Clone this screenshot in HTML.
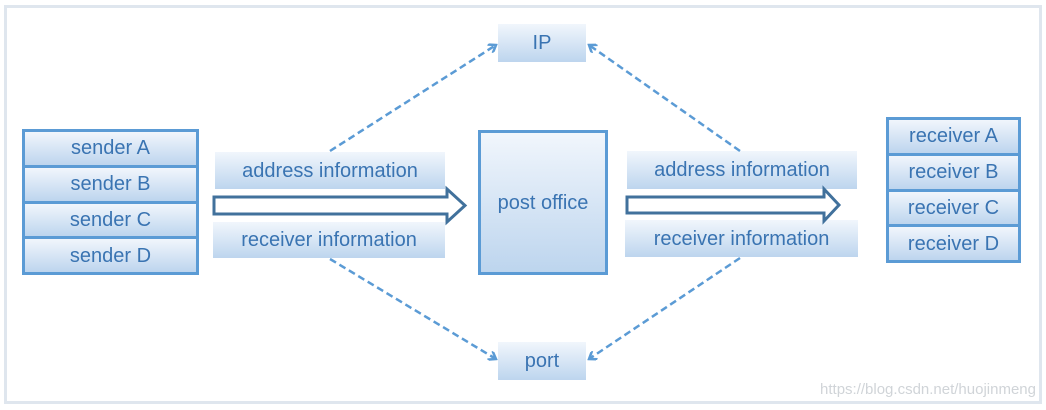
<!DOCTYPE html>
<html><head><style>
body{margin:0;width:1046px;height:410px;background:#fff;position:relative;overflow:hidden;font-family:"Liberation Sans",sans-serif;}
.frame{position:absolute;left:4px;top:5px;width:1032px;height:393px;border:3px solid #dfe6ee;}
.g{position:absolute;background:linear-gradient(#f1f6fc,#bdd5ee);color:#3a74b2;font-size:20px;display:flex;align-items:center;justify-content:center;box-sizing:border-box;padding-top:1px;}
.b{border:3px solid #5b9bd5;}
.stack{position:absolute;border:3px solid #5b9bd5;box-sizing:border-box;display:flex;flex-direction:column;}
.stack div{flex:1;background:linear-gradient(#f1f6fc,#bdd5ee);color:#3a74b2;font-size:20px;display:flex;align-items:center;justify-content:center;border-bottom:3px solid #5b9bd5;padding-top:1px;}
.stack div:last-child{border-bottom:none;}
svg{position:absolute;left:0;top:0;}
.wm{position:absolute;right:10px;top:381px;color:#d0d4d8;font-size:15px;}
</style></head><body>
<div class="frame"></div>
<div class="stack" style="left:22px;top:129px;width:177px;height:146px"><div>sender A</div><div>sender B</div><div>sender C</div><div>sender D</div></div>
<div class="stack" style="left:886px;top:117px;width:135px;height:146px"><div>receiver A</div><div>receiver B</div><div>receiver C</div><div>receiver D</div></div>
<div class="g" style="left:215px;top:152px;width:230px;height:37px">address information</div>
<div class="g" style="left:213px;top:222px;width:232px;height:36px">receiver information</div>
<div class="g" style="left:627px;top:151px;width:230px;height:38px">address information</div>
<div class="g" style="left:625px;top:220px;width:233px;height:37px">receiver information</div>
<div class="g b" style="left:478px;top:130px;width:130px;height:145px">post office</div>
<div class="g" style="left:498px;top:24px;width:88px;height:38px">IP</div>
<div class="g" style="left:498px;top:342px;width:88px;height:38px">port</div>
<svg width="1046" height="410">
<defs><marker id="m" markerWidth="10" markerHeight="10" refX="8" refY="5" orient="auto" markerUnits="userSpaceOnUse"><path d="M1,0 L8,5 L1,10" fill="none" stroke="#5b9bd5" stroke-width="2.5"/></marker></defs>
<g stroke="#5b9bd5" stroke-width="2.5" stroke-dasharray="7,4" fill="none" marker-end="url(#m)">
<line x1="330" y1="151" x2="496" y2="45"/>
<line x1="740" y1="151" x2="589" y2="45"/>
<line x1="330" y1="259" x2="496" y2="359"/>
<line x1="740" y1="258" x2="589" y2="359"/>
</g>
<path d="M214,197 L447,197 L447,189 L465,205.5 L447,222 L447,214 L214,214 Z" fill="#fff" stroke="#41719c" stroke-width="3" stroke-linejoin="miter"/>
<path d="M627,197 L824,197 L824,189 L839,205 L824,221 L824,213 L627,213 Z" fill="#fff" stroke="#41719c" stroke-width="3"/>
</svg>
<div class="wm">https://blog.csdn.net/huojinmeng</div>
</body></html>
